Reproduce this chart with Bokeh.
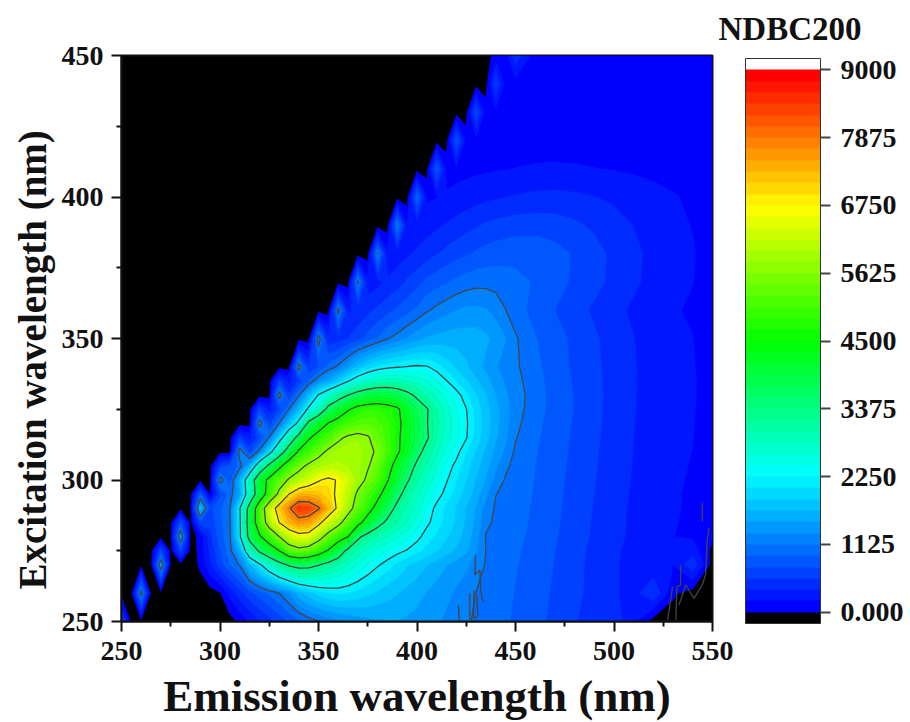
from bokeh.plotting import figure
from bokeh.models import ColorBar, FixedTicker, LinearColorMapper, Range1d, Title
from bokeh.embed import file_html
from bokeh.resources import INLINE

B = -100
emission = list(range(250, 455, 5)) + list(range(460, 560, 10))
excitation = [250, 260, 270, 275, 280, 285, 290, 295, 300, 305, 310, 315, 320, 325, 330, 335, 340,
              350, 360, 370, 380, 390, 400, 410, 420, 430, 440, 450]

ex_250 = [700] + [B]*11 + [50,200,350,480,620,770,900,1020,1110,1190,1260,1330,1390,1440,1470,1490,1490,1470,1440,1400,1340,1280,1210,1150,1100,1050,1000,960,910, 810,700,580,430,480,220,B,B,B,B]
ex_260 = [B,B,1250] + [B]*7 + [-20,250,480,680,840,980,1125,1320,1620,1800,1950,2050,2090,2060,2000,1920,1840,1770,1700,1630,1560,1490,1420,1350,1280,1200,1120,1060,1010,970,930, 830,720,610,500,400,300,560,30,B,B]
ex_270 = [B]*4 + [1400] + [B]*3 + [30,350,650,930,1150,1700,2150,2650,3100,3450,3600,3560,3400,3150,2980,2800,2600,2430,2280,2150,2020,1900,1800,1700,1600,1510,1430,1350,1220,1110,1050,1000,950, 860,740,620,500,400,300,220,190,520,B]
ex_275 = [B]*4 + [700,B,650,B] + [50,400,750,1050,1600,2750,3480,4000,4500,5200,5400,5250,4900,4430,3800,3200,2950,2750,2570,2430,2320,2230,2120,2010,1890,1770,1650,1530,1330,1120,1060,1010,965, 870,750,630,510,410,310,230,190,300,-60]
ex_280 = [B]*6 + [1450,B] + [60,500,850,1100,2150,3650,4400,5000,5625,6200,6500,6450,5950,5350,4900,4500,3500,3150,2950,2800,2650,2500,2320,2150,2030,1900,1780,1600,1400,1110,1060,1020,980, 890,770,650,530,430,330,240,190,160,20]
ex_285 = [B]*6 + [750,B] + [700,620,880,1120,2150,3800,5000,6000,6750,7300,7600,7500,6950,6300,5850,5250,4750,4150,3600,3250,3000,2800,2550,2300,2150,2000,1850,1650,1450,1170,1090,1040,1000, 900,780,660,540,440,340,250,195,165,40]
ex_290 = [B]*8 + [1700,700,900,1120,2200,3700,5050,6200,7100,7800,8450,8350,7950,7300,6600,5900,5300,4800,4250,3700,3200,2950,2700,2400,2180,2020,1860,1680,1480,1230,1100,1050,1010, 910,790,670,550,440,340,250,200,170,60]
ex_295 = [B]*8 + [850,0,700,1000,1500,2700,3900,4900,5800,6750,7250,7300,7200,7000,6600,6100,5500,5100,4700,4150,3600,3100,2850,2600,2350,2170,1980,1790,1600,1350,1130,1070,1020, 920,800,680,560,450,350,255,200,170,70]
ex_300 = [B]*10 + [1250,850,1600,2800,4000,4700,5250,5700,6000,6350,6700,6880,6700,6300,5900,5500,5150,4550,3950,3450,3050,2800,2500,2270,2080,1880,1680,1480,1250,1100,1040, 930,810,690,570,460,360,260,205,175,80]
ex_305 = [B]*10 + [650,780,1000,1600,2700,3550,4300,4950,5400,5750,5950,6050,6050,6000,5850,5680,5350,4800,4200,3750,3250,2950,2650,2370,2180,1960,1760,1570,1360,1170,1060, 940,820,700,580,465,365,265,210,180,85]
ex_310 = [B]*12 + [1300,700,1200,2000,2900,3800,4600,5000,5400,5750,5900,5950,5880,5750,5550,5100,4600,4150,3600,3150,2850,2560,2330,2080,1860,1650,1450,1270,1090, 950,830,710,590,470,370,270,215,185,90]
ex_315 = [B]*12 + [600,300,700,1150,1950,2800,3650,4400,4800,5100,5510,5720,5800,5680,5350,5000,4600,4250,3800,3450,3000,2700,2500,2270,1980,1760,1530,1350,1140, 970,840,720,600,475,375,275,220,190,95]
ex_320 = [B]*14 + [1280,650,1130,1800,2400,3550,4100,4530,4800,5050,5200,5250,5150,4950,4650,4250,3850,3400,3050,2750,2500,2290,2000,1790,1570,1370,1180, 990,850,730,610,480,380,280,225,195,100]
ex_325 = [B]*14 + [650,300,650,1130,1700,2350,2800,3600,4000,4430,4750,4850,4870,4750,4600,4150,3750,3420,3000,2700,2450,2260,1990,1770,1560,1380,1210, 1020,860,740,620,485,385,285,230,200,105]
ex_330 = [B]*16 + [1280,600,1100,1700,2280,2650,3050,3380,3650,3850,3950,3950,3800,3550,3250,2950,2750,2550,2350,2120,1900,1700,1500,1340,1220, 1030,860,740,620,490,390,290,235,205,105]
ex_335 = [B]*16 + [620,300,600,950,1300,1550,1850,2220,2500,2700,2850,2900,2880,2800,2720,2620,2450,2260,2070,1900,1730,1570,1420,1290,1190, 1010,850,730,610,490,390,290,235,205,105]
ex_340 = [B]*18 + [1280,550,750,1000,1170,1450,1750,1950,2100,2180,2230,2260,2290,2270,2150,1990,1850,1720,1590,1450,1330,1240,1160, 990,830,720,600,490,390,290,235,200,100]
ex_350 = [B]*20 + [1280,420,470,560,680,820,960,1110,1200,1330,1430,1520,1560,1590,1600,1600,1590,1540,1440,1320,1150, 950,820,710,590,480,380,280,225,190,95]
ex_360 = [B]*22 + [1220,350,420,510,600,690,790,870,980,1100,1180,1250,1310,1350,1360,1330,1250,1130,1020, 870,750,640,530,430,340,250,200,170,85]
ex_370 = [B]*24 + [1180,250,320,400,480,590,680,800,860,920,980,1030,1060,1060,1050,1020,990, 920,820,720,620,510,410,310,240,190,110]
ex_380 = [B]*26 + [1140,230,280,340,410,480,550,620,680,730,780,820,850,870,880, 880,820,730,630,520,420,320,250,200,115]
ex_390 = [B]*28 + [1130,200,240,290,340,390,440,490,540,590,620,640,660, 670,650,600,530,450,370,290,230,180,110]
ex_400 = [B]*30 + [950,160,180,210,240,270,300,330,350,370,390, 420,430,410,380,340,290,240,200,160,100]
ex_410 = [B]*32 + [850,120,130,140,150,160,170,180,190, 200,205,200,190,175,160,145,130,110,80]
ex_420 = [B]*34 + [780,100,105,110,115,120,125, 130,130,125,120,115,110,105,100,95,85]
ex_430 = [B]*36 + [700,100,105,110,115, 120,120,115,110,105,100,95,90,85,80]
ex_440 = [B]*38 + [600,90,100, 105,105,100,100,95,90,85,80,75,70]
ex_450 = [B]*38 + [80,90,500, 90,90,85,85,80,80,75,70,65,60]

intensity = [ex_250, ex_260, ex_270, ex_275, ex_280, ex_285, ex_290, ex_295, ex_300, ex_305, ex_310,
             ex_315, ex_320, ex_325, ex_330, ex_335, ex_340, ex_350, ex_360, ex_370, ex_380, ex_390,
             ex_400, ex_410, ex_420, ex_430, ex_440, ex_450]
for ex_value, row in zip(excitation, intensity):
    assert len(row) == len(emission), (ex_value, len(row))

noise_em = [[429.7, 429.4, 432.0, 432.2, 433.0, 433.9],
            [426.8, 426.8],
            [428.9, 428.6, 430.9, 430.3],
            [421.0, 421.5],
            [533.8, 533.8, 531.9, 531.4],
            [529.7, 528.9, 527.2],
            [544.8, 544.8],
            [547.4, 548.2, 547.4, 546.5, 544.8, 540.6, 536.4, 533.0]]
noise_ex = [[273.6, 266.5, 268.2, 261.8, 258.2, 257.0],
            [260.0, 250.6],
            [261.0, 251.2, 251.8, 259.4],
            [255.8, 250.6],
            [270.0, 262.9, 262.3, 250.6],
            [262.3, 258.2, 250.6],
            [291.8, 285.3],
            [279.4, 283.0, 279.4, 266.5, 262.9, 258.2, 262.9, 255.8]]

band_step = 187.5
fill_levels = [band_step * i for i in range(49)]
line_levels = [1125, 2250, 3375, 4500, 5625, 6750, 7875]
bar_ticks = [0, 1125, 2250, 3375, 4500, 5625, 6750, 7875, 9000]
x_ticks = [250, 300, 350, 400, 450, 500, 550]
x_minor = [275, 325, 375, 425, 475, 525]
y_ticks = [250, 300, 350, 400, 450]
y_minor = [275, 325, 375, 425]

anchors = [(0, 0, 255), (0, 255, 255), (0, 255, 0), (255, 255, 0), (255, 0, 0)]
palette = []
for i in range(48):
    t = i / 47 * 4
    k = min(int(t), 3)
    f = t - k
    c = [round(anchors[k][j] + (anchors[k + 1][j] - anchors[k][j]) * f) for j in range(3)]
    palette.append("#%02x%02x%02x" % tuple(c))

FONT = "Liberation Serif"
p = figure(output_backend="svg", toolbar_location=None, frame_width=591, frame_height=566,
           min_border_left=121, min_border_top=54, min_border_bottom=100, min_border_right=195,
           x_range=Range1d(250, 550), y_range=Range1d(250, 450),
           background_fill_color="#000000", border_fill_color="#ffffff")
p.grid.visible = False

p.contour(emission, excitation, intensity, levels=fill_levels, fill_color=palette,
          line_color=palette + [palette[-1]], line_width=1)
p.contour(emission, excitation, intensity, levels=line_levels, fill_color=None,
          line_color="#454545", line_width=1.3)
p.multi_line(noise_em, noise_ex, line_color="#454545", line_width=1.3)

for ax, ticks, minor in ((p.xaxis[0], x_ticks, x_minor), (p.yaxis[0], y_ticks, y_minor)):
    ax.ticker = FixedTicker(ticks=ticks, minor_ticks=minor)
    ax.major_label_text_font = FONT
    ax.major_label_text_font_style = "bold"
    ax.major_label_text_font_size = "28px"
    ax.major_label_text_color = "#111111"
    ax.axis_line_color = "#111111"
    ax.axis_line_width = 2
    ax.major_tick_line_color = "#111111"
    ax.major_tick_line_width = 2
    ax.minor_tick_line_color = "#111111"
    ax.minor_tick_line_width = 2
    ax.major_tick_out = 10
    ax.major_tick_in = 0
    ax.minor_tick_out = 5
    ax.minor_tick_in = 0
p.xaxis[0].axis_label = "Emission wavelength (nm)"
p.xaxis[0].axis_label_text_font = FONT
p.xaxis[0].axis_label_text_font_style = "bold"
p.xaxis[0].axis_label_text_font_size = "45px"
p.xaxis[0].axis_label_text_color = "#111111"
p.xaxis[0].major_label_standoff = 10
p.xaxis[0].axis_label_standoff = 8
p.yaxis[0].major_label_standoff = 8
p.outline_line_color = "#111111"
p.outline_line_width = 2

p.add_layout(Title(text="Excitation wavelength (nm)", align="left", offset=32, standoff=10,
                   text_font=FONT, text_font_style="bold", text_font_size="39px",
                   text_color="#111111"), "left")
p.add_layout(Title(text="NDBC200", align="left", offset=597, standoff=17,
                   text_font=FONT, text_font_style="bold", text_font_size="33px",
                   text_color="#111111"), "above")

mapper = LinearColorMapper(palette=["#000000"] + palette + ["#ffffff"], low=-band_step, high=9000 + band_step)
bar = ColorBar(color_mapper=mapper, ticker=FixedTicker(ticks=bar_ticks), width=75, height=565,
               location=(33, -2), margin=0, padding=0,
               major_label_overrides={0: "0.000"},
               major_label_text_font=FONT, major_label_text_font_style="bold",
               major_label_text_font_size="28px", major_label_text_color="#111111",
               label_standoff=10,
               bar_line_color="#333333", bar_line_width=1,
               major_tick_line_color="#444444", major_tick_line_width=2,
               major_tick_in=0, major_tick_out=10, minor_tick_line_color=None,
               background_fill_alpha=0, border_line_color=None)
p.add_layout(bar, "right")

open("out.html", "w").write(file_html(p, INLINE))
